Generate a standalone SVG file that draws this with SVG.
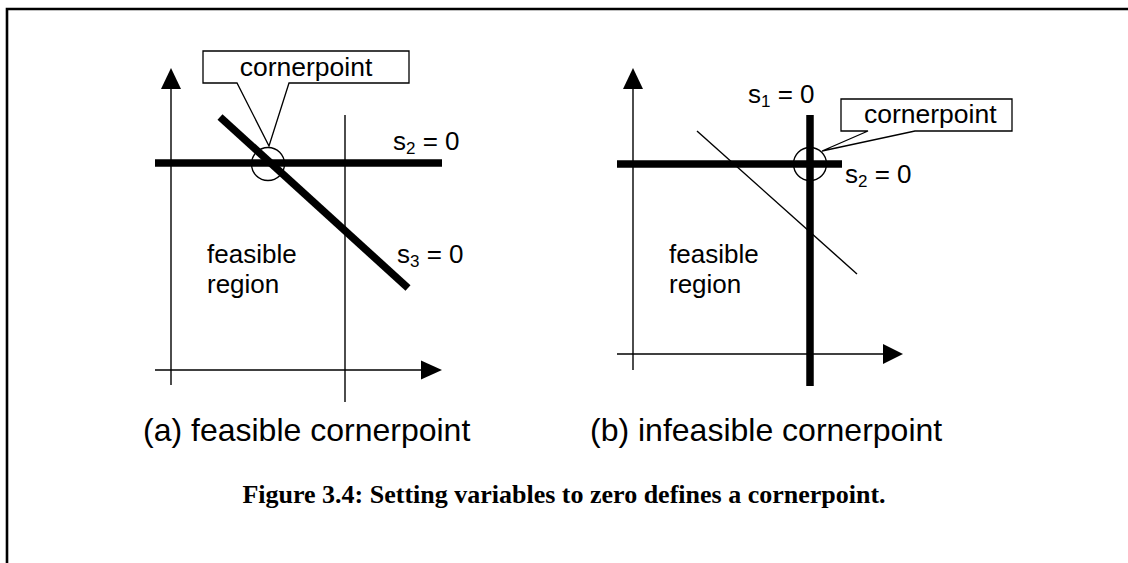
<svg xmlns="http://www.w3.org/2000/svg" width="1128" height="563" viewBox="0 0 1128 563">
<style>
.t{font-family:"Liberation Sans",Arial,sans-serif;font-size:26px;fill:#000}
.sub{font-size:17px}
.cap{font-family:"Liberation Sans",Arial,sans-serif;font-size:32px;fill:#000}
.fig{font-family:"Liberation Serif","Times New Roman",serif;font-size:26px;font-weight:bold;fill:#000}
.thin{stroke:#000;stroke-width:1.4;fill:none}
.thick{stroke:#000;stroke-width:7.5;fill:none}
.arr{fill:#000}
.call{fill:#fff;stroke:#000;stroke-width:1.3}
</style>
<rect width="1128" height="563" fill="#fff"/>
<path d="M7,563 V9 H1128" fill="none" stroke="#000" stroke-width="2.6"/>
<g id="panel-a">
  <line class="thin" x1="171" y1="88" x2="171" y2="385"/>
  <polygon class="arr" points="171,68 161,89 181,89"/>
  <line class="thin" x1="155" y1="370" x2="423" y2="370"/>
  <polygon class="arr" points="442,370 421,360.5 421,379.5"/>
  <line class="thin" x1="345" y1="115" x2="345" y2="402"/>
  <line class="thick" x1="155" y1="163" x2="442" y2="163"/>
  <line class="thick" x1="220" y1="117" x2="408" y2="288"/>
  <circle class="thin" cx="268" cy="164" r="16.5"/>
  <path class="call" d="M203,51 H409 V83 H289 L269,146 L237,83 H203 Z"/>
  <text class="t" x="306" y="76" text-anchor="middle" style="font-size:26.5px">cornerpoint</text>
  <text class="t" x="393" y="150">s<tspan class="sub" dy="4">2</tspan><tspan dy="-4"> = 0</tspan></text>
  <text class="t" x="397" y="263">s<tspan class="sub" dy="4">3</tspan><tspan dy="-4"> = 0</tspan></text>
  <text class="t" x="207" y="263">feasible</text>
  <text class="t" x="207" y="293">region</text>
  <text class="cap" x="143" y="441">(a) feasible cornerpoint</text>
</g>
<g id="panel-b">
  <line class="thin" x1="633" y1="88" x2="633" y2="370"/>
  <polygon class="arr" points="633,68 623,89 643,89"/>
  <line class="thin" x1="617" y1="354" x2="885" y2="354"/>
  <polygon class="arr" points="903,354 883,344 883,364"/>
  <line class="thin" x1="697" y1="131" x2="857" y2="274"/>
  <line class="thick" x1="617" y1="164" x2="842" y2="164"/>
  <line class="thick" x1="810" y1="115" x2="810" y2="386"/>
  <circle class="thin" cx="810" cy="164" r="16.5"/>
  <path class="call" d="M841,99 H1012 V131 H915 L822,151 L868,131 H841 Z"/>
  <text class="t" x="864" y="123" style="font-size:26.5px">cornerpoint</text>
  <text class="t" x="748" y="103">s<tspan class="sub" dy="4">1</tspan><tspan dy="-4"> = 0</tspan></text>
  <text class="t" x="845" y="183">s<tspan class="sub" dy="4">2</tspan><tspan dy="-4"> = 0</tspan></text>
  <text class="t" x="669" y="263">feasible</text>
  <text class="t" x="669" y="293">region</text>
  <text class="cap" x="590" y="441">(b) infeasible cornerpoint</text>
</g>
<text class="fig" x="564" y="503" text-anchor="middle">Figure 3.4: Setting variables to zero defines a cornerpoint.</text>
</svg>
